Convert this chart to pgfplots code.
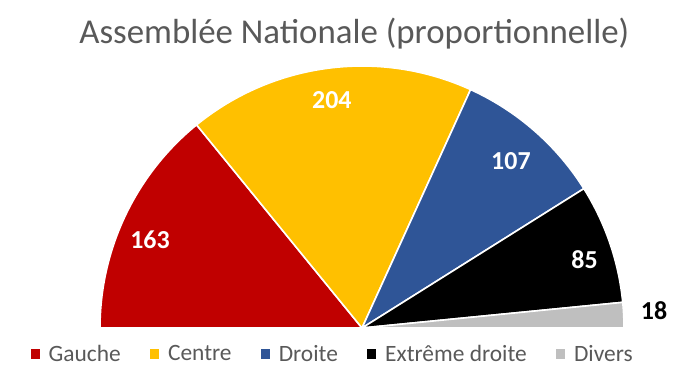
\documentclass[border=0pt]{standalone}
\usepackage{pgfplots}
\pgfplotsset{compat=1.18}
\usepackage{fontspec}
\setmainfont{Carlito}
\definecolor{gauche}{HTML}{C00000}
\definecolor{centre}{HTML}{FFC000}
\definecolor{droite}{HTML}{2F5597}
\definecolor{extreme}{HTML}{000000}
\definecolor{divers}{HTML}{BFBFBF}
\definecolor{txtgray}{HTML}{595959}
\tikzset{
  inlbl/.style={text=white, font=\bfseries\fontsize{26}{30}\selectfont},
  outlbl/.style={text=black, font=\bfseries\fontsize{26}{30}\selectfont},
}
\def\total{577}
% #1 cumulative seats before, #2 seats, #3 colour
\newcommand{\seatwedge}[3]{%
  \pgfmathsetmacro\sa{180-180/\total*#1}%
  \pgfmathsetmacro\ea{180-180/\total*(#1+#2)}%
  \edef\tmp{\noexpand\fill[#3, draw=white, line width=1.6bp, line join=round]
    (axis cs:362,56) -- ++(\sa:262bp) arc[start angle=\sa, end angle=\ea, radius=262bp] -- cycle;}%
  \tmp
}
% #1 cumulative before, #2 seats, #3 radius, #4 angle offset, #5 style
\newcommand{\seatlabel}[5]{%
  \pgfmathsetmacro\ma{180-180/\total*(#1+#2/2)+#4}%
  \edef\tmp{\noexpand\path (axis cs:362,56) ++(\ma:#3bp) node[#5] {#2};}%
  \tmp
}
\begin{document}
\begin{tikzpicture}
\begin{axis}[
  width=684bp, height=384bp, scale only axis,
  xmin=0, xmax=684, ymin=0, ymax=384,
  hide axis, clip=false,
  title={Assemblée Nationale (proportionnelle)},
  title style={at={(0.518,0.8724)}, anchor=base, text=txtgray, font=\fontsize{35}{40}\selectfont},
  legend columns=5,
  legend style={at={(0.487,0.078)}, anchor=center, draw=none, fill=none,
    font=\fontsize{23.5}{27}\selectfont, text=txtgray,
    /tikz/every even column/.append style={column sep=26bp},
    nodes={inner xsep=3bp}},
  legend image code/.code={\fill[#1] (0bp,-4.5bp) rectangle (8.5bp,4.5bp); \path[draw=none] (0bp,0bp) (15bp,0bp);},
]
\path (axis cs:0,0) rectangle (axis cs:684,384);
\seatwedge{0}{163}{gauche}
\seatwedge{163}{204}{centre}
\seatwedge{367}{107}{droite}
\seatwedge{474}{85}{extreme}
\seatwedge{559}{18}{divers}
\seatlabel{0}{163}{229.5}{2.9}{inlbl}
\seatlabel{163}{204}{230}{0.2}{inlbl}
\seatlabel{367}{107}{224}{-0.5}{inlbl}
\seatlabel{474}{85}{233}{-1.7}{inlbl}
\seatlabel{559}{18}{292.5}{0.5}{outlbl}
\addlegendimage{gauche}\addlegendentry{Gauche}
\addlegendimage{centre}\addlegendentry{Centre}
\addlegendimage{droite}\addlegendentry{Droite}
\addlegendimage{extreme}\addlegendentry{Extrême droite}
\addlegendimage{divers}\addlegendentry{Divers}
\end{axis}
\end{tikzpicture}
\end{document}
